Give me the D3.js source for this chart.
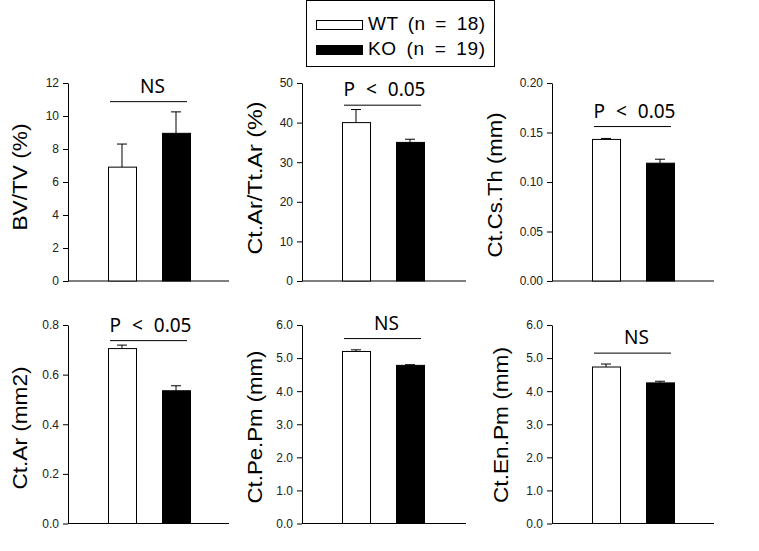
<!DOCTYPE html>
<html><head><meta charset="utf-8">
<script src="https://cdn.jsdelivr.net/npm/d3@7"></script>
<style>body{margin:0;background:#fff}svg{display:block}</style>
</head><body>
<script>
// ---- data ----
const groups = ["WT", "KO"];
const legendLabels = ["WT (n = 18)", "KO (n = 19)"];
const yTitles = ["BV/TV (%)", "Ct.Ar/Tt.Ar (%)", "Ct.Cs.Th (mm)", "Ct.Ar (mm2)", "Ct.Pe.Pm (mm)", "Ct.En.Pm (mm)"];
const wtMeans = [6.9, 40.0, 0.143, 0.705, 5.2, 4.73];
const wtErrors = [1.4, 3.3, 0.001, 0.014, 0.05, 0.09];
const koMeans = [8.95, 35.0, 0.119, 0.535, 4.78, 4.25];
const koErrors = [1.3, 0.8, 0.004, 0.02, 0.02, 0.05];
const yMax = [12, 50, 0.20, 0.8, 6.0, 6.0];
const yStep = [2, 10, 0.05, 0.2, 1.0, 1.0];
const tickFormats = ["d", "d", ".2f", ".1f", ".1f", ".1f"];
const sigLabels = ["NS", "P < 0.05", "P < 0.05", "P < 0.05", "NS", "NS"];
const sigLevels = [10.87, 44.4, 0.156, 0.737, 5.59, 5.15];

// ---- layout ----
const W = 759, H = 551;
const colX = [68, 302, 552];
const colEnd = [229, 466, 714];
const rowTop = [83, 325];
const rowBot = [281, 523.5];
const titleX = [20, 255, 495, 20, 255, 501];
const titleY = [177, 178, 185, 428, 427, 425];
const titleLen = [107, 153, 145, 123, 153, 156];
const colors = {WT: "#ffffff", KO: "#000000"};

const svg = d3.select("body").append("svg").attr("width", W).attr("height", H);

for (let i = 0; i < 6; i++) {
  const c = i % 3, r = Math.floor(i / 3);
  const ax = colX[c];
  const g = svg.append("g");
  const y = d3.scaleLinear().domain([0, yMax[i]]).range([rowBot[r], rowTop[r]]);
  const x = d3.scaleBand().domain(groups).range([ax + 40, ax + 122]).paddingInner(0.4815).paddingOuter(0);
  const ticks = d3.range(0, yMax[i] + yStep[i] / 2, yStep[i]);

  const yAxis = d3.axisLeft(y).tickValues(ticks).tickFormat(d3.format(tickFormats[i])).tickSize(5).tickSizeOuter(0).tickPadding(4);
  const ag = g.append("g").attr("transform", `translate(${ax},0)`).call(yAxis);
  ag.select(".domain").attr("stroke", "#000");
  ag.selectAll(".tick line").attr("stroke", "#000");
  ag.selectAll(".tick text").attr("font-family", "Liberation Sans, Arial, sans-serif").attr("font-size", 12).attr("fill", "#222");

  // x baseline
  g.append("line").attr("x1", ax).attr("x2", colEnd[c]).attr("y1", y(0)).attr("y2", y(0)).attr("stroke", "#000");

  const rows = [
    {k: "WT", m: wtMeans[i], e: wtErrors[i]},
    {k: "KO", m: koMeans[i], e: koErrors[i]}
  ];
  // error bars (upper)
  rows.forEach(d => {
    const cx = x(d.k) + x.bandwidth() / 2;
    g.append("line").attr("x1", cx).attr("x2", cx).attr("y1", y(d.m)).attr("y2", y(d.m + d.e)).attr("stroke", "#000");
    g.append("line").attr("x1", cx - 5).attr("x2", cx + 5).attr("y1", y(d.m + d.e)).attr("y2", y(d.m + d.e)).attr("stroke", "#000");
  });
  g.selectAll("rect.bar").data(rows).join("rect").attr("class", "bar")
    .attr("x", d => x(d.k) + 0.5).attr("width", x.bandwidth())
    .attr("y", d => y(d.m)).attr("height", d => y(0) - y(d.m))
    .attr("fill", d => colors[d.k]).attr("stroke", "#000").attr("stroke-width", 1);

  // significance
  const lx1 = x("WT") + 2, lx2 = x("KO") + x.bandwidth() - 3;
  const ly = y(sigLevels[i]);
  g.append("line").attr("x1", lx1).attr("x2", lx2).attr("y1", ly).attr("y2", ly).attr("stroke", "#000");
  g.append("text").attr("x", (lx1 + lx2) / 2 + (sigLabels[i] === "NS" ? 4 : 2)).attr("y", ly - 9)
    .attr("text-anchor", "middle").attr("font-family", "Noto Sans, sans-serif").attr("font-size", 19)
    .style("word-spacing", "6px")
    .text(sigLabels[i]);

  // y title
  g.append("text").attr("transform", `translate(${titleX[i]},${titleY[i]}) rotate(-90)`)
    .attr("text-anchor", "middle").attr("dy", "0.35em")
    .attr("font-family", "Liberation Sans, Arial, sans-serif").attr("font-size", 20)
    .attr("textLength", titleLen[i]).attr("lengthAdjust", "spacingAndGlyphs")
    .text(yTitles[i]);
}

// legend
const lg = svg.append("g");
lg.append("rect").attr("x", 306.5).attr("y", 0.5).attr("width", 188).attr("height", 66).attr("fill", "#fff").attr("stroke", "#000");
groups.forEach((k, j) => {
  const yy = j === 0 ? 20 : 45;
  lg.append("rect").attr("x", 316.5).attr("y", yy + 0.5).attr("width", 46).attr("height", 9)
    .attr("fill", colors[k]).attr("stroke", "#000");
  lg.append("text").attr("x", 368).attr("y", yy + 10).attr("font-family", "Liberation Sans, Arial, sans-serif")
    .attr("font-size", 19).style("word-spacing", "4px").attr("textLength", 117).attr("lengthAdjust", "spacing")
    .text(legendLabels[j]);
});
</script>
</body></html>
